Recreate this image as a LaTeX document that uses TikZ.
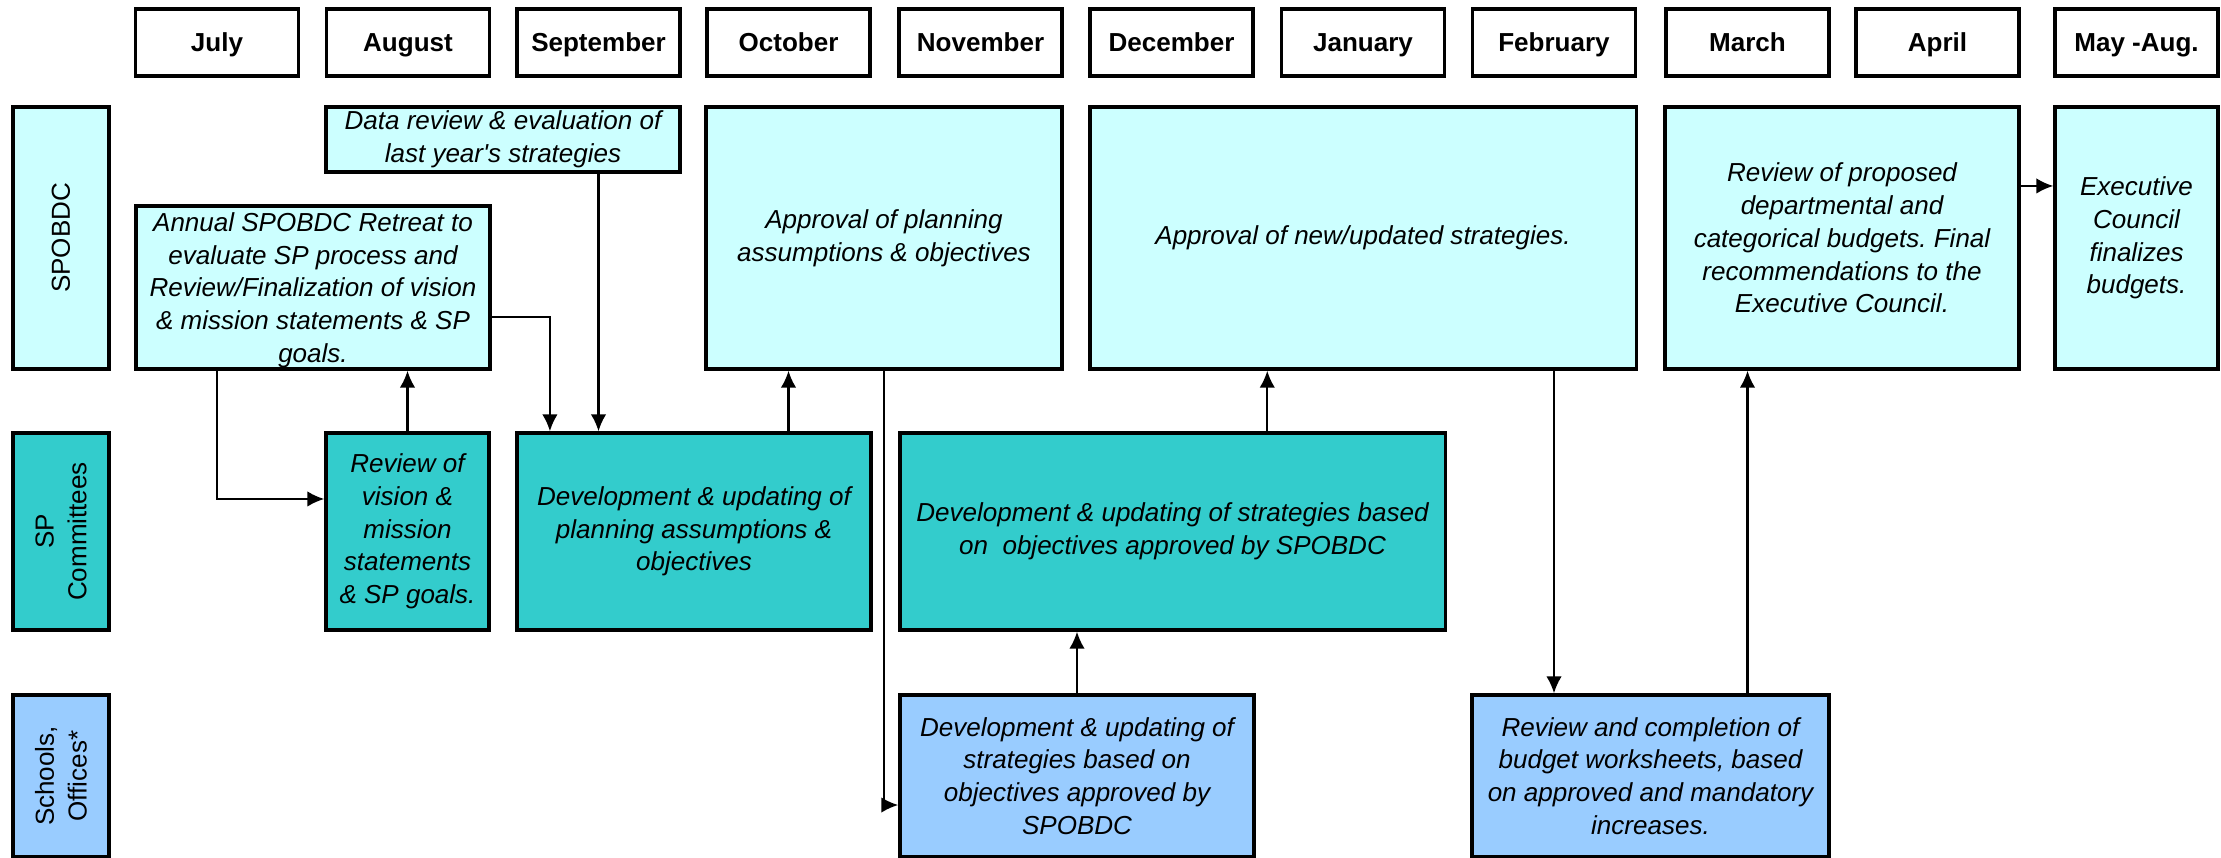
\documentclass[tikz,border=0pt]{standalone}
\usepackage{fontspec}
\setmainfont{Liberation Sans}[Ligatures=TeXOff]
\usetikzlibrary{arrows.meta,calc}
\definecolor{spobdcfill}{HTML}{CCFFFF}
\definecolor{cmtfill}{HTML}{33CCCC}
\definecolor{schfill}{HTML}{99CCFF}
\frenchspacing
\tikzset{
  >={Latex[length=4.8pt,width=4.4pt]},
}
\tikzstyle{every node}=[font=\fontsize{7.4}{9.3}\selectfont]
\tikzstyle{month}=[draw,line width=0.95pt,minimum width=1.63cm,minimum height=0.67cm,inner sep=0pt,text height=5.3pt,text depth=0pt,font=\fontsize{7.4}{9.3}\selectfont\bfseries]
\tikzstyle{lane}=[draw,line width=0.95pt,rotate=90,minimum height=0.96cm,inner sep=0pt,align=center]
\tikzstyle{task}=[draw,line width=0.95pt,inner sep=0pt,align=center,font=\fontsize{7.4}{9.3}\selectfont\itshape]
\tikzstyle{flow}=[line width=0.6pt,->]

\begin{document}
\begin{tikzpicture}[x=0.01cm,y=-0.01cm]
    \useasboundingbox (0,0) rectangle (2221,858);
    % months
    \node[month] (jul) at (217,42.5) {July};
    \node[month] (aug) at (408,42.5) {August};
    \node[month] (sep) at (598.5,42.5) {September};
    \node[month] (oct) at (788.5,42.5) {October};
    \node[month] (nov) at (980.5,42.5) {November};
    \node[month] (dec) at (1171.5,42.5) {December};
    \node[month] (jan) at (1363,42.5) {January};
    \node[month] (feb) at (1554,42.5) {February};
    \node[month] (mar) at (1747.5,42.5) {March};
    \node[month] (apr) at (1937.5,42.5) {April};
    \node[month] (may) at (2136.5,42.5) {May -Aug.};
    \coordinate (decjan) at ($(dec)!0.5!(jan)$);
    % lanes
    \node[lane,fill=spobdcfill,minimum width=2.62cm] (spobdc) at (61,238) {SPOBDC};
    \node[lane,fill=cmtfill,minimum width=1.97cm] (cmt) at (61,531.5) {SP\\Committees};
    \node[lane,fill=schfill,minimum width=1.62cm] (sch) at (61,776) {Schools,\\Offices*};
    % SPOBDC
    \node[task,fill=spobdcfill,minimum width=3.54cm,minimum height=0.65cm] (data) at (503,139.5) {Data review \& evaluation of\\last year's strategies};
    \node[task,fill=spobdcfill,minimum width=3.54cm,minimum height=1.63cm,text depth=0pt] (retreat) at (313,287.5) {Annual SPOBDC Retreat to\\evaluate SP process and\\Review/Finalization of vision\\\& mission statements \& SP\\goals.};
    \node[task,fill=spobdcfill,minimum width=3.56cm,minimum height=2.62cm] (apprplan) at (884,238) {Approval of planning\\assumptions \& objectives};
    \node[task,fill=spobdcfill,minimum width=5.46cm,minimum height=2.62cm] (apprstrat) at (1363,238) {Approval of new/updated strategies.};
    \node[task,fill=spobdcfill,minimum width=3.54cm,minimum height=2.62cm] (reviewbud) at (1842,238) {Review of proposed\\departmental and\\categorical budgets. Final\\recommendations to the\\Executive Council.};
    \node[task,fill=spobdcfill,minimum width=1.63cm,minimum height=2.62cm] (execc) at (2136.5,238) {Executive\\Council\\finalizes\\budgets.};
    % SP committees
    \node[task,fill=cmtfill,minimum width=1.63cm,minimum height=1.97cm] (vision) at (407.5,531.5) {Review of\\vision \&\\mission\\statements\\\& SP goals.};
    \node[task,fill=cmtfill,minimum width=3.54cm,minimum height=1.97cm] (devplan) at (694,531.5) {Development \& updating of\\planning assumptions \&\\objectives};
    \node[task,fill=cmtfill,minimum width=5.45cm,minimum height=1.97cm] (devstrat) at (1172.5,531.5) {Development \& updating of strategies based\\on\ \ objectives approved by SPOBDC};
    % schools, offices
    \node[task,fill=schfill,minimum width=3.54cm,minimum height=1.62cm] (schdev) at (1077,776) {Development \& updating of\\strategies based on\\objectives approved by\\SPOBDC};
    \node[task,fill=schfill,minimum width=3.57cm,minimum height=1.62cm] (complete) at (1650.5,776) {Review and completion of\\budget worksheets, based\\on approved and mandatory\\increases.};
    % flows
    \draw[flow] (retreat.south -| jul) |- ([yshift=3.25mm]vision.west);
    \draw[flow] (vision.north) -- (vision.north |- retreat.south);
    \draw[flow] ([yshift=-2.95mm]retreat.east) -| ([xshift=-14.4mm]devplan.north);
    \draw[flow] (data.south -| sep) -- (devplan.north -| sep);
    \draw[flow] (devplan.north -| oct) -- (apprplan.south -| oct);
    \draw[flow] (apprplan.south) |- ([yshift=-2.9mm]schdev.west);
    \draw[flow] (devstrat.north -| decjan) -- (apprstrat.south -| decjan);
    \draw[flow] (schdev.north) -- (schdev.north |- devstrat.south);
    \draw[flow] (apprstrat.south -| feb) -- (complete.north -| feb);
    \draw[flow] (complete.north -| mar) -- (reviewbud.south -| mar);
    \draw[flow] ([yshift=5.2mm]reviewbud.east) -- ([yshift=5.2mm]execc.west);
\end{tikzpicture}
\end{document}
